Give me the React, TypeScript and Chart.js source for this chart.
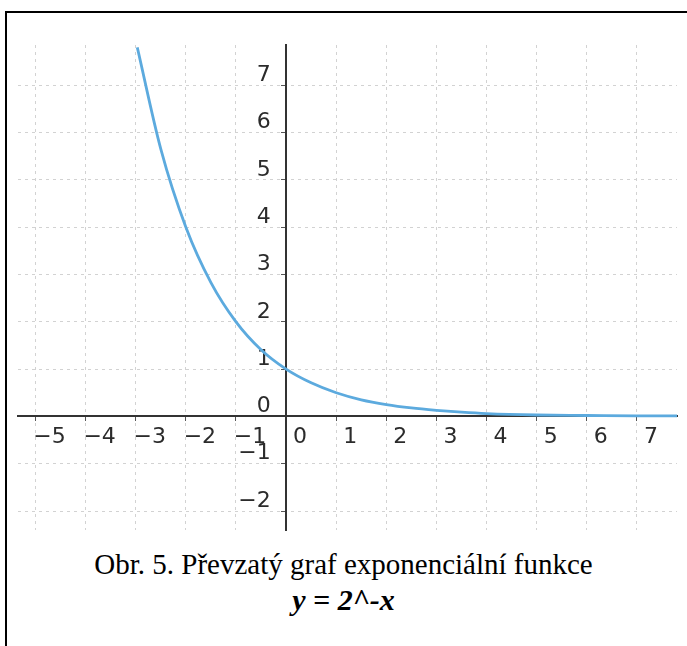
import React, { useEffect, useRef } from "react";
import { Chart, registerables } from "chart.js";

Chart.register(...registerables);

// Curve points (x, y)
const curveX = [-2.97, -2.5, -2, -1.5, -1, -0.5, 0, 0.5, 1, 1.5, 2, 2.5, 3, 3.5, 4, 5, 6, 7, 7.8];
const curveY = [7.8, 5.65, 4, 2.83, 2, 1.41, 1, 0.71, 0.5, 0.35, 0.25, 0.18, 0.13, 0.09, 0.06, 0.03, 0.02, 0.01, 0.01];

// Tick labels on the axes
const xTickValues = [-5, -4, -3, -2, -1, 0, 1, 2, 3, 4, 5, 6, 7];
const yTickValues = [-2, -1, 0, 1, 2, 3, 4, 5, 6, 7];

const xRange = [-5.35, 7.8];
const yRange = [-2.4, 7.85];

const captionLine1 = "Obr. 5. Převzatý graf exponenciální funkce";
const captionLine2 = "y = 2^-x";

const fmt = (v: number) => (v < 0 ? "\u2212" + Math.abs(v) : String(v));

const noScalePadding = (s: any) => {
  s.paddingTop = 0;
  s.paddingBottom = 0;
  s.paddingLeft = 0;
  s.paddingRight = 0;
};

export default function App() {
  const canvasRef = useRef<HTMLCanvasElement | null>(null);

  useEffect(() => {
    if (!canvasRef.current) return;
    const tickFont = { family: "'DejaVu Sans', sans-serif", size: 22 };
    const gridOpts = {
      color: "#d2d2d2",
      lineWidth: 1,
      drawTicks: true,
      tickLength: 4,
      tickColor: "#555",
      tickWidth: 1,
    };
    const chart = new Chart(canvasRef.current, {
      type: "line",
      data: {
        datasets: [
          {
            data: curveX.map((x, i) => ({ x, y: curveY[i] })),
            borderColor: "#5caade",
            borderWidth: 2.8,
            pointRadius: 0,
            cubicInterpolationMode: "monotone",
            fill: false,
          },
        ],
      },
      options: {
        animation: false,
        responsive: false,
        devicePixelRatio: 1,
        layout: { padding: { left: 18, right: 10, top: 31, bottom: 14 } },
        plugins: { legend: { display: false }, tooltip: { enabled: false } },
        scales: {
          x: {
            type: "linear",
            min: xRange[0],
            max: xRange[1],
            position: { y: 0 } as any,
            afterBuildTicks: (scale: any) => {
              scale.ticks = xTickValues.map((v) => ({ value: v }));
            },
            afterFit: noScalePadding,
            grid: gridOpts,
            border: { display: true, color: "#333", width: 2, dash: [3, 4] },
            ticks: {
              font: tickFont,
              color: "#2b2b2b",
              labelOffset: 14,
              padding: 4,
              maxRotation: 0,
              autoSkip: false,
              callback: (v: any) => fmt(Number(v)),
            },
          },
          y: {
            type: "linear",
            min: yRange[0],
            max: yRange[1],
            position: { x: 0 } as any,
            afterBuildTicks: (scale: any) => {
              scale.ticks = yTickValues.map((v) => ({ value: v }));
            },
            afterFit: noScalePadding,
            grid: gridOpts,
            border: { display: true, color: "#333", width: 2, dash: [3, 4] },
            ticks: {
              font: tickFont,
              color: "#2b2b2b",
              labelOffset: -10,
              padding: 6,
              autoSkip: false,
              callback: (v: any) => fmt(Number(v)) + "\u2002\u2009",
            },
          },
        },
      },
    } as any);
    return () => chart.destroy();
  }, []);

  return (
    <div style={{ position: "absolute", left: 0, top: 0, width: 687, height: 646, overflow: "hidden", background: "#fff" }}>
      <div
        style={{
          position: "absolute",
          left: 5,
          top: 11,
          width: 720,
          height: 700,
          borderLeft: "2px solid #000",
          borderTop: "2px solid #000",
        }}
      />
      <canvas
        ref={canvasRef}
        width={687}
        height={530}
        style={{ position: "absolute", left: 0, top: 14, width: 687, height: 530 }}
      />
      <div
        style={{
          position: "absolute",
          left: 0,
          width: 687,
          top: 546,
          textAlign: "center",
          fontFamily: "'Liberation Serif', 'Times New Roman', serif",
          fontSize: 29,
          lineHeight: "36px",
          color: "#000",
        }}
      >
        <div>{captionLine1}</div>
        <div style={{ fontWeight: "bold", fontStyle: "italic", fontSize: 30 }}>{captionLine2}</div>
      </div>
    </div>
  );
}
